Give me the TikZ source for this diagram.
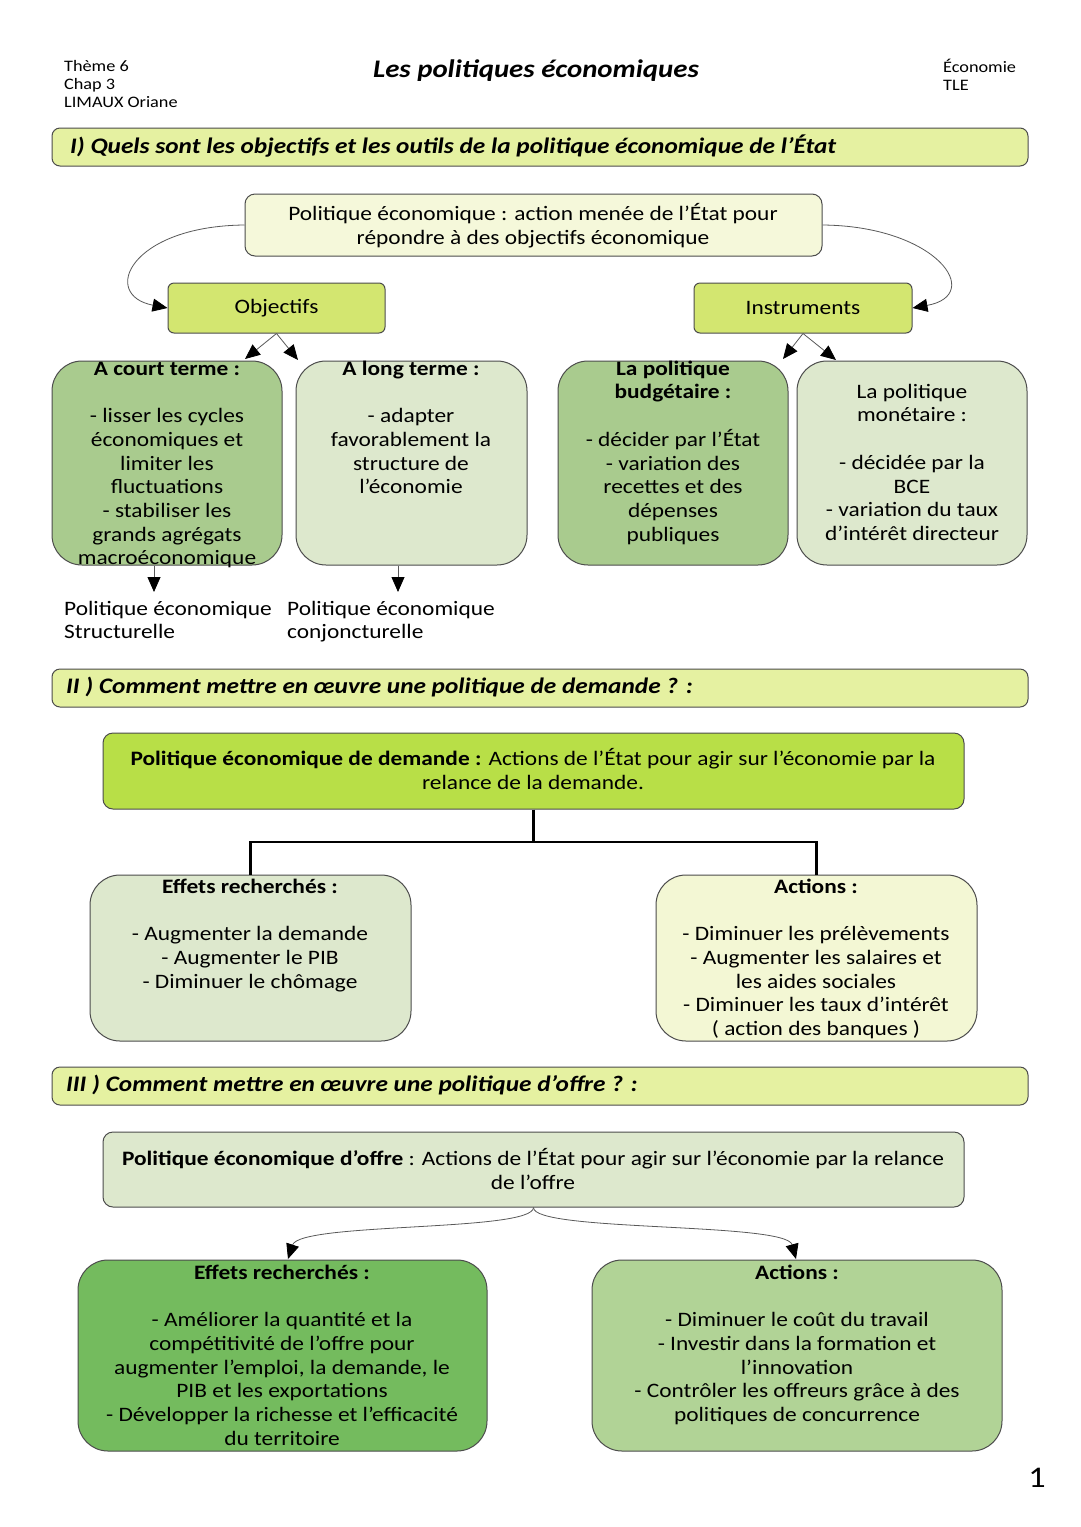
\documentclass[tikz,border=0pt]{standalone}
\usepackage{fontspec}
\setmainfont{Carlito}[FakeStretch=1.14]
\usetikzlibrary{arrows.meta}
\definecolor{barc}{HTML}{E5F1A1}
\definecolor{topc}{HTML}{F5F8DA}
\definecolor{objc}{HTML}{D3E670}
\definecolor{midg}{HTML}{A9CB8E}
\definecolor{palg}{HTML}{DDE8CD}
\definecolor{demc}{HTML}{B8DF47}
\definecolor{palc}{HTML}{F3F7D4}
\definecolor{drkg}{HTML}{74BB5E}
\definecolor{ltg}{HTML}{B1D396}
\newcommand\fl{\rule{0pt}{16pt}}
\tikzset{
  bx/.style={draw=black!70, line width=1pt, rounded corners=#1, inner sep=0pt},
  bx/.default=30pt,
  txt/.style={anchor=north, align=center, inner sep=0pt, font=\fontsize{20.5}{23.7}\selectfont},
  bartxt/.style={anchor=west, inner sep=0pt, font=\fontsize{22.2}{26}\selectfont\bfseries\itshape},
  hdr/.style={anchor=north west, align=left, inner sep=0pt, font=\fontsize{16}{18}\selectfont},
  thin/.style={draw=black!65, line width=0.8pt, -{Triangle[length=15pt,width=13pt,black]}},
  thick/.style={draw=black, line width=2.5pt},
}
\begin{document}
\begin{tikzpicture}[x=1pt,y=-1pt]
\useasboundingbox[fill=white] (0,0) rectangle (1080,1527);

% header
\node[hdr] (h1) at (64,59) {\rule{0pt}{12pt}Thème 6\\Chap 3\\LIMAUX Oriane};
\node[hdr] (h2) at (943,59) {\rule{0pt}{12pt}Économie\\TLE};
\node[inner sep=0pt, font=\fontsize{25.3}{30}\selectfont\bfseries\itshape] (title) at (536,71) {Les politiques économiques};

% section I
\node[bx=8pt, fill=barc, minimum width=976pt, minimum height=38pt] (bar1) at (540,147) {};
\node[bartxt] (bar1t) at (70,146) {I) Quels sont les objectifs et les outils de la politique économique de l’État};

\node[bx=10pt, fill=topc, minimum width=577pt, minimum height=62pt] (top) at (533.5,225) {};
\node[txt] (topt) at (533,203) {\fl Politique économique : action menée de l’État pour\\répondre à des objectifs économique};

\node[bx=6pt, fill=objc, minimum width=217pt, minimum height=50pt, font=\fontsize{20.5}{23.7}\selectfont] (obj) at (276.5,308) {Objectifs};
\node[bx=6pt, fill=objc, minimum width=218pt, minimum height=50pt, font=\fontsize{20.5}{23.7}\selectfont] (ins) at (803,308) {Instruments};

\draw[thin] (top.west) .. controls (130,226) and (100,295) .. (obj.west);
\draw[thin] (top.east) .. controls (937,226) and (985,295) .. (ins.east);

\node[bx, fill=midg, minimum width=230pt, minimum height=204pt] (ct) at (167,463) {};
\node[bx, fill=palg, minimum width=231pt, minimum height=204pt] (lt) at (411.5,463) {};
\node[bx, fill=midg, minimum width=230pt, minimum height=204pt] (bu) at (673,463) {};
\node[bx, fill=palg, minimum width=230pt, minimum height=204pt] (mo) at (912,463) {};

\coordinate (o1) at (245,359);
\coordinate (o2) at (298,360);
\coordinate (i1) at (783,359);
\coordinate (i2) at (836,360);
\draw[thin] (obj.south) -- (o1);
\draw[thin] (obj.south) -- (o2);
\draw[thin] (ins.south) -- (i1);
\draw[thin] (ins.south) -- (i2);

\node[txt] (ctt) at (167,359) {\fl\textbf{A court terme :}\\[23.7pt]- lisser les cycles\\économiques et\\limiter les\\fluctuations\\- stabiliser les\\grands agrégats\\macroéconomique};
\node[txt] (ltt) at (411,359) {\fl\textbf{A long terme :}\\[23.7pt]- adapter\\favorablement la\\structure de\\l’économie};
\node[txt] (but) at (673,359) {\fl\textbf{La politique}\\\textbf{budgétaire :}\\[23.7pt]- décider par l’État\\- variation des\\recettes et des\\dépenses\\publiques};
\node[txt] (mot) at (912,382) {\fl La politique\\monétaire :\\[23.7pt]- décidée par la\\BCE\\- variation du taux\\d’intérêt directeur};

\coordinate (s1) at (154,592);
\coordinate (s2) at (398,592);
\draw[thin] (ct.south -| s1) -- (s1);
\draw[thin] (lt.south -| s2) -- (s2);

\node[txt, anchor=north west, align=left] (pst) at (64,599) {\fl Politique économique\\Structurelle};
\node[txt, anchor=north west, align=left] (pcj) at (287,599) {\fl Politique économique\\conjoncturelle};

% section II
\node[bx=8pt, fill=barc, minimum width=976pt, minimum height=38pt] (bar2) at (540,688) {};
\node[bartxt] (bar2t) at (66,687) {II ) Comment mettre en œuvre une politique de demande ? :};

\node[bx=10pt, fill=demc, minimum width=861pt, minimum height=76pt] (dem) at (533.5,771) {};
\node[txt] (demt) at (533,748) {\fl\textbf{Politique économique de demande :} Actions de l’État pour agir sur l’économie par la\\relance de la demande.};

\node[bx, fill=palg, minimum width=321pt, minimum height=166pt] (ed) at (250.5,958) {};
\node[bx, fill=palc, minimum width=321pt, minimum height=166pt] (ad) at (816.5,958) {};
\coordinate (jn) at (533.5,842);
\draw[thick] (dem.south) -- (jn);
\draw[thick] (jn) -| (ed.north);
\draw[thick] (jn) -| (ad.north);

\node[txt] (edt) at (250,877) {\fl\textbf{Effets recherchés :}\\[23.7pt]- Augmenter la demande\\- Augmenter le PIB\\- Diminuer le chômage};
\node[txt] (adt) at (816,877) {\fl\textbf{Actions :}\\[23.7pt]- Diminuer les prélèvements\\- Augmenter les salaires et\\les aides sociales\\- Diminuer les taux d’intérêt\\( action des banques )};

% section III
\node[bx=8pt, fill=barc, minimum width=976pt, minimum height=38pt] (bar3) at (540,1086) {};
\node[bartxt] (bar3t) at (66,1085) {III ) Comment mettre en œuvre une politique d’offre ? :};

\node[bx=10pt, fill=palg, minimum width=861pt, minimum height=75pt] (off) at (533.5,1169.5) {};
\node[txt] (offt) at (533,1148) {\fl\textbf{Politique économique d’offre} : Actions de l’État pour agir sur l’économie par la relance\\de l’offre};

\node[bx, fill=drkg, minimum width=409pt, minimum height=191pt] (eo) at (282.5,1355.5) {};
\node[bx, fill=ltg, minimum width=410pt, minimum height=191pt] (ao) at (797,1355.5) {};
\coordinate (e1) at (288,1259);
\coordinate (a1) at (796,1259);
\draw[thin] (off.south) .. controls (533,1232) and (300,1222) .. (e1);
\draw[thin] (off.south) .. controls (533,1232) and (786,1222) .. (a1);

\node[txt] (eot) at (282,1263) {\fl\textbf{Effets recherchés :}\\[23.7pt]- Améliorer la quantité et la\\compétitivité de l’offre pour\\augmenter l’emploi, la demande, le\\PIB et les exportations\\- Développer la richesse et l’efficacité\\du territoire};
\node[txt] (aot) at (797,1263) {\fl\textbf{Actions :}\\[23.7pt]- Diminuer le coût du travail\\- Investir dans la formation et\\l’innovation\\- Contrôler les offreurs grâce à des\\politiques de concurrence};

\node[inner sep=0pt, font=\fontsize{30}{34}\selectfont] (pg) at (1037,1478) {1};
\end{tikzpicture}
\end{document}
